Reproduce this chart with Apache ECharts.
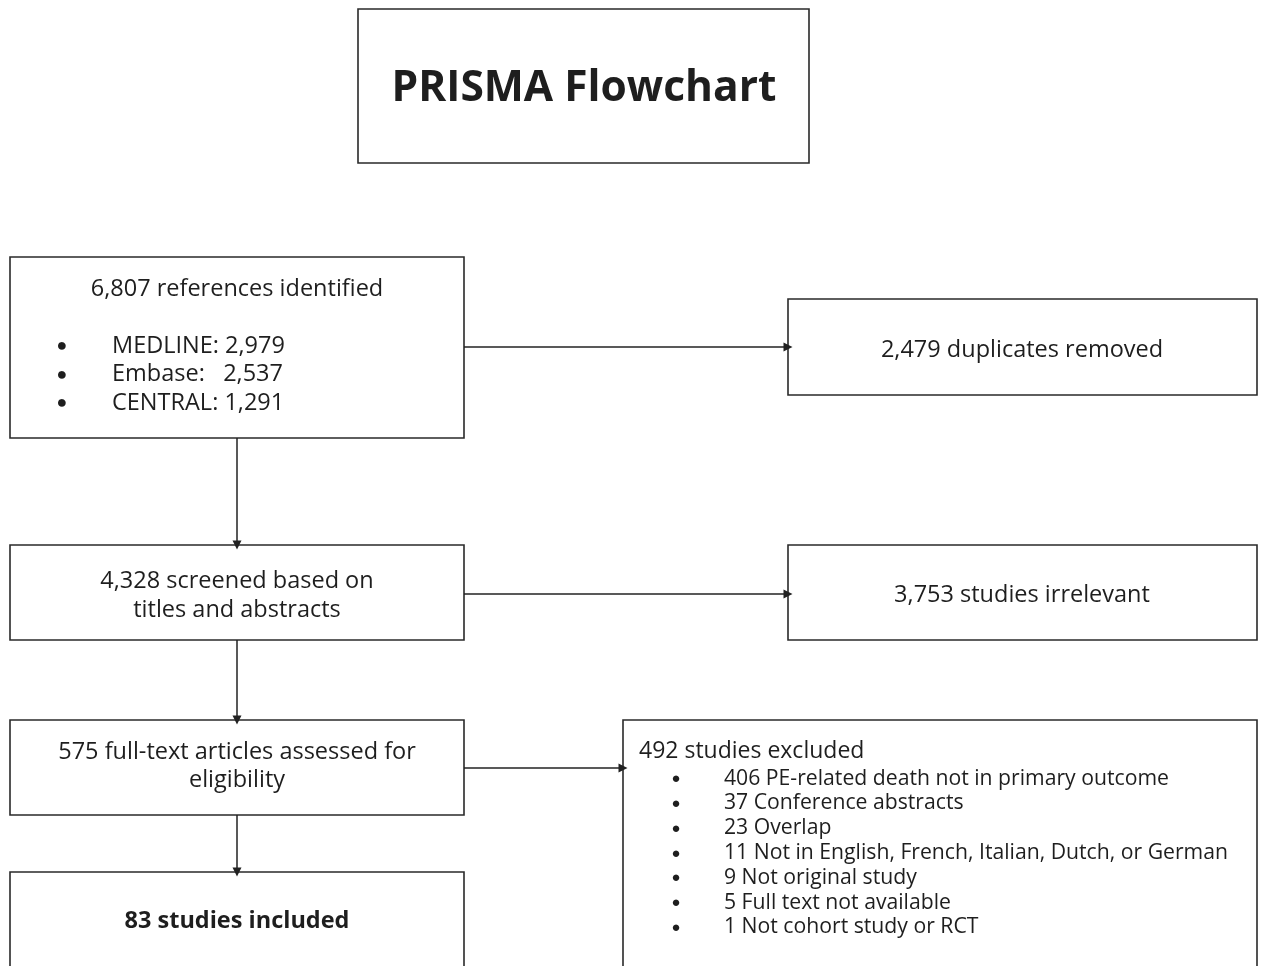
<!DOCTYPE html>
<html>
<head>
<meta charset="utf-8">
<title>PRISMA Flowchart</title>
<script src="https://cdn.jsdelivr.net/npm/echarts@6/dist/echarts.min.js"></script>
<style>
  html, body { margin: 0; padding: 0; background: #fff; }
  #main { width: 1265px; height: 966px; }
</style>
</head>
<body>
<div id="main"></div>
<script>
// ---- data ----
var chartTitle = 'PRISMA Flowchart';
var totalIdentified = '6,807';
var sourceNames = ['MEDLINE:', 'Embase:  ', 'CENTRAL:'];
var sourceCounts = ['2,979', '2,537', '1,291'];
var duplicatesRemoved = '2,479';
var screened = '4,328';
var irrelevant = '3,753';
var fullText = '575';
var excludedTotal = '492';
var excludedCounts = ['406', '37', '23', '11', '9', '5', '1'];
var excludedReasons = [
  'PE-related death not in primary outcome',
  'Conference abstracts',
  'Overlap',
  'Not in English, French, Italian, Dutch, or German',
  'Not original study',
  'Full text not available',
  'Not cohort study or RCT'
];
var included = '83';

// ---- layout (pixel-like units on hidden axes) ----
var boxes = [
  [358, 9, 809, 163],     // title
  [10, 257, 464, 438],    // identified
  [788, 299, 1257, 395],  // duplicates
  [10, 545, 464, 640],    // screened
  [788, 545, 1257, 640],  // irrelevant
  [10, 720, 464, 815],    // full text
  [623, 720, 1257, 980],  // excluded
  [10, 872, 464, 980]     // included
];
var arrows = [
  [[464, 347], [788, 347]],
  [[237, 438], [237, 545]],
  [[464, 594], [788, 594]],
  [[237, 640], [237, 720]],
  [[464, 768], [623, 768]],
  [[237, 815], [237, 872]]
];

// texts: [x, y, text, align, size, weight]
var texts = [];
texts.push([584, 89, chartTitle, 'center', 42.5, 'bold']);
texts.push([237, 289, totalIdentified + ' references identified', 'center', 23.5, 'normal']);
sourceNames.forEach(function (n, i) {
  texts.push([62, 346 + i * 28.5, '\u25CF', 'center', 18, 'normal']);
  texts.push([112, 346 + i * 28.5, n + ' ' + sourceCounts[i], 'left', 23.5, 'normal']);
});
texts.push([1022, 350, duplicatesRemoved + ' duplicates removed', 'center', 23.5, 'normal']);
texts.push([237, 581, screened + ' screened based on', 'center', 23.5, 'normal']);
texts.push([237, 610, 'titles and abstracts', 'center', 23.5, 'normal']);
texts.push([1022, 595, irrelevant + ' studies irrelevant', 'center', 23.5, 'normal']);
texts.push([237, 752, fullText + ' full-text articles assessed for', 'center', 23.5, 'normal']);
texts.push([237, 780, 'eligibility', 'center', 23.5, 'normal']);
texts.push([639, 751, excludedTotal + ' studies excluded', 'left', 23, 'normal']);
excludedCounts.forEach(function (c, i) {
  texts.push([676, 779 + i * 24.8, '\u25CF', 'center', 15, 'normal']);
  texts.push([724, 778.5 + i * 24.8, c + ' ' + excludedReasons[i], 'left', 21.2, 'normal']);
});
texts.push([237, 921, included + ' studies included', 'center', 23.5, 'bold']);

var chart = echarts.init(document.getElementById('main'));

var option = {
  backgroundColor: '#fff',
  animation: false,
  grid: { left: 0, right: 0, top: 0, bottom: 0 },
  xAxis: { type: 'value', min: 0, max: 1265, show: false },
  yAxis: { type: 'value', min: 0, max: 966, inverse: true, show: false },
  series: [
    {
      // boxes
      type: 'custom',
      clip: true,
      data: boxes,
      renderItem: function (params, api) {
        var p0 = api.coord([api.value(0), api.value(1)]);
        var p1 = api.coord([api.value(2), api.value(3)]);
        return {
          type: 'rect',
          shape: { x: p0[0], y: p0[1], width: p1[0] - p0[0], height: p1[1] - p0[1] },
          style: { fill: '#fff', stroke: '#2a2a2a', lineWidth: 1.6 }
        };
      }
    },
    {
      // arrows
      type: 'lines',
      coordinateSystem: 'cartesian2d',
      symbol: ['none', 'triangle'],
      symbolSize: 9,
      lineStyle: { color: '#222', width: 1.5, opacity: 1 },
      data: arrows.map(function (a) { return { coords: a }; }),
      z: 3
    },
    {
      // texts
      type: 'custom',
      data: texts.map(function (t) { return [t[0], t[1]]; }),
      renderItem: function (params, api) {
        var t = texts[params.dataIndex];
        var p = api.coord([api.value(0), api.value(1)]);
        return {
          type: 'text',
          x: p[0],
          y: p[1],
          style: {
            text: t[2],
            fill: '#1e1e1e',
            font: t[5] + ' ' + t[4] + 'px "Open Sans", sans-serif',
            align: t[3],
            verticalAlign: 'middle'
          }
        };
      },
      z: 4
    }
  ]
};

chart.setOption(option);
</script>
</body>
</html>
